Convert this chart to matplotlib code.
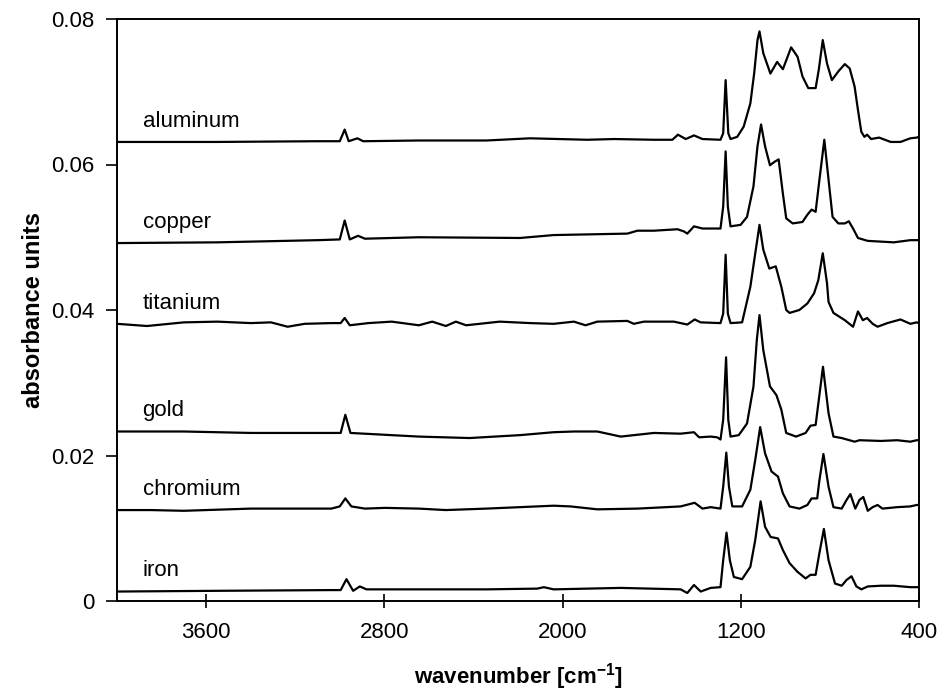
import matplotlib
matplotlib.use("Agg")
import matplotlib.pyplot as plt

plt.rcParams['font.family'] = ['Liberation Sans', 'DejaVu Sans']
plt.rcParams['mathtext.fontset'] = 'custom'
plt.rcParams['mathtext.rm'] = 'Liberation Sans'
plt.rcParams['mathtext.bf'] = 'Liberation Sans:bold'

# spectra (wavenumber in cm-1, absorbance)
aluminum_wn = [4000, 3550, 3098, 3000, 2978, 2960, 2921, 2895, 2645, 2342,
               2146, 1889, 1769, 1590, 1507, 1482, 1447, 1410, 1372, 1291,
               1279, 1268, 1256, 1246, 1216, 1187, 1157, 1140, 1125, 1116,
               1099, 1067, 1037, 1011, 974, 945, 923, 897, 864, 850,
               832, 813, 791, 762, 733, 711, 689, 674, 659, 645,
               633, 615, 579, 527, 483, 439, 410, 400]
aluminum_abs = [0.0631, 0.0631, 0.0632, 0.0632, 0.0648, 0.0632, 0.0636, 0.0632, 0.0633, 0.0633,
                0.0636, 0.0634, 0.0635, 0.0634, 0.0634, 0.0641, 0.0635, 0.0640, 0.0635, 0.0634,
                0.0643, 0.0716, 0.0643, 0.0635, 0.0638, 0.0652, 0.0684, 0.0725, 0.0771, 0.0783,
                0.0753, 0.0725, 0.0741, 0.0731, 0.0761, 0.0748, 0.0721, 0.0705, 0.0705, 0.0730,
                0.0771, 0.0739, 0.0716, 0.0728, 0.0738, 0.0732, 0.0707, 0.0675, 0.0645, 0.0638,
                0.0641, 0.0635, 0.0637, 0.0631, 0.0631, 0.0636, 0.0637, 0.0638]

copper_wn = [4000, 3550, 3098, 3000, 2978, 2955, 2918, 2887, 2645, 2191,
             2040, 1709, 1664, 1590, 1484, 1455, 1440, 1410, 1372, 1291,
             1279, 1268, 1258, 1246, 1201, 1172, 1143, 1125, 1109, 1091,
             1069, 1047, 1030, 1011, 996, 967, 923, 901, 882, 864,
             847, 825, 806, 788, 762, 733, 715, 696, 674, 630,
             571, 513, 439, 410, 400]
copper_abs = [0.0492, 0.0493, 0.0496, 0.0497, 0.0523, 0.0497, 0.0502, 0.0498, 0.0500, 0.0499,
              0.0503, 0.0505, 0.0509, 0.0509, 0.0511, 0.0508, 0.0505, 0.0515, 0.0512, 0.0512,
              0.0542, 0.0618, 0.0542, 0.0515, 0.0517, 0.0528, 0.0570, 0.0625, 0.0655, 0.0625,
              0.0599, 0.0604, 0.0607, 0.0560, 0.0526, 0.0519, 0.0521, 0.0531, 0.0538, 0.0535,
              0.0579, 0.0634, 0.0579, 0.0528, 0.0519, 0.0519, 0.0522, 0.0512, 0.0499, 0.0495,
              0.0494, 0.0493, 0.0496, 0.0496, 0.0496]

titanium_wn = [4000, 3865, 3700, 3550, 3400, 3309, 3234, 3158, 3038, 2996,
               2978, 2955, 2872, 2767, 2645, 2585, 2524, 2479, 2433, 2282,
               2146, 2040, 1949, 1897, 1844, 1709, 1680, 1635, 1500, 1440,
               1407, 1380, 1291, 1279, 1268, 1258, 1246, 1194, 1157, 1135,
               1116, 1099, 1072, 1043, 1018, 996, 981, 937, 901, 871,
               852, 832, 813, 806, 784, 733, 696, 674, 652, 633,
               608, 586, 542, 483, 439, 410, 400]
titanium_abs = [0.0381, 0.0378, 0.0383, 0.0384, 0.0382, 0.0383, 0.0377, 0.0381, 0.0382, 0.0382,
                0.0389, 0.0379, 0.0382, 0.0384, 0.0379, 0.0384, 0.0378, 0.0384, 0.0379, 0.0384,
                0.0382, 0.0381, 0.0384, 0.0379, 0.0384, 0.0385, 0.0381, 0.0384, 0.0384, 0.0380,
                0.0387, 0.0383, 0.0382, 0.0395, 0.0476, 0.0395, 0.0382, 0.0383, 0.0432, 0.0478,
                0.0517, 0.0483, 0.0457, 0.0460, 0.0432, 0.0400, 0.0396, 0.0400, 0.0409, 0.0423,
                0.0441, 0.0478, 0.0437, 0.0411, 0.0396, 0.0386, 0.0377, 0.0398, 0.0386, 0.0389,
                0.0381, 0.0377, 0.0382, 0.0387, 0.0381, 0.0383, 0.0382]

gold_wn = [4000, 3700, 3400, 3023, 2996, 2975, 2952, 2645, 2418, 2191,
           2040, 1949, 1844, 1739, 1590, 1470, 1410, 1387, 1335, 1306,
           1291, 1279, 1266, 1256, 1246, 1209, 1172, 1143, 1128, 1116,
           1099, 1069, 1040, 1018, 996, 952, 909, 887, 864, 850,
           831, 806, 784, 747, 689, 667, 571, 498, 439, 410, 400]
gold_abs = [0.0233, 0.0233, 0.0231, 0.0231, 0.0231, 0.0256, 0.0231, 0.0226, 0.0224, 0.0228,
            0.0232, 0.0233, 0.0233, 0.0226, 0.0231, 0.0230, 0.0232, 0.0225, 0.0226, 0.0225,
            0.0222, 0.0249, 0.0335, 0.0249, 0.0226, 0.0228, 0.0244, 0.0295, 0.0359, 0.0393,
            0.0345, 0.0295, 0.0283, 0.0263, 0.0231, 0.0226, 0.0231, 0.0241, 0.0242, 0.0276,
            0.0322, 0.0258, 0.0226, 0.0224, 0.0219, 0.0221, 0.0220, 0.0221, 0.0219, 0.0221, 0.0221]

chromium_wn = [4000, 3850, 3700, 3400, 3174, 3038, 3000, 2975, 2948, 2887,
               2797, 2645, 2524, 2342, 2040, 1964, 1844, 1664, 1470, 1407,
               1372, 1335, 1291, 1279, 1265, 1253, 1238, 1194, 1157, 1135,
               1113, 1091, 1062, 1033, 1011, 981, 937, 901, 882, 857,
               847, 829, 806, 784, 747, 725, 708, 686, 667, 650,
               630, 608, 586, 564, 498, 439, 410, 400]
chromium_abs = [0.0125, 0.0125, 0.0124, 0.0127, 0.0127, 0.0127, 0.0130, 0.0141, 0.0130, 0.0127,
                0.0128, 0.0127, 0.0125, 0.0127, 0.0131, 0.0130, 0.0126, 0.0127, 0.0130, 0.0135,
                0.0127, 0.0129, 0.0127, 0.0157, 0.0204, 0.0157, 0.0130, 0.0130, 0.0153, 0.0194,
                0.0239, 0.0203, 0.0178, 0.0171, 0.0148, 0.0130, 0.0127, 0.0132, 0.0141, 0.0141,
                0.0166, 0.0202, 0.0157, 0.0129, 0.0127, 0.0139, 0.0147, 0.0127, 0.0139, 0.0143,
                0.0124, 0.0129, 0.0132, 0.0127, 0.0129, 0.0130, 0.0132, 0.0132]

iron_wn = [4000, 3550, 3038, 2996, 2970, 2940, 2910, 2880, 2645, 2342,
           2114, 2084, 2040, 1739, 1470, 1440, 1410, 1380, 1335, 1291,
           1279, 1264, 1249, 1231, 1194, 1157, 1135, 1111, 1091, 1066,
           1033, 1011, 981, 945, 909, 887, 864, 847, 827, 806,
           777, 747, 725, 703, 681, 659, 630, 571, 513, 439, 410, 400]
iron_abs = [0.0013, 0.0014, 0.0015, 0.0015, 0.0030, 0.0014, 0.0020, 0.0016, 0.0016, 0.0016,
            0.0017, 0.0019, 0.0016, 0.0018, 0.0016, 0.0011, 0.0022, 0.0013, 0.0018, 0.0019,
            0.0056, 0.0094, 0.0056, 0.0033, 0.0030, 0.0047, 0.0084, 0.0137, 0.0102, 0.0088,
            0.0086, 0.0070, 0.0052, 0.0040, 0.0031, 0.0036, 0.0036, 0.0066, 0.0099, 0.0056,
            0.0024, 0.0021, 0.0029, 0.0034, 0.0020, 0.0016, 0.0020, 0.0021, 0.0021, 0.0019,
            0.0019, 0.0019]

names = ['aluminum', 'copper', 'titanium', 'gold', 'chromium', 'iron']
spectra = [(aluminum_wn, aluminum_abs), (copper_wn, copper_abs),
           (titanium_wn, titanium_abs), (gold_wn, gold_abs),
           (chromium_wn, chromium_abs), (iron_wn, iron_abs)]

x_ticks = [3600, 2800, 2000, 1200, 400]
y_ticks = [0, 0.02, 0.04, 0.06, 0.08]
y_ticklabels = ['0', '0.02', '0.04', '0.06', '0.08']

fig = plt.figure(figsize=(9.41, 6.99), dpi=100)
ax = fig.add_axes([117/941, 1 - 601/699, (919 - 117)/941, (601 - 19)/699])

for name, (wn, ab) in zip(names, spectra):
    ax.plot(wn, ab, color='black', linewidth=1.6, solid_joinstyle='round')
    ax.text(3885, ab[0] + 0.0021, name, fontsize=16, va='baseline', ha='left')

ax.set_xlim(4000, 400)
ax.set_ylim(0, 0.08)
ax.set_xticks(x_ticks)
ax.set_yticks(y_ticks)
ax.set_yticklabels(y_ticklabels)
ax.tick_params(axis='x', direction='inout', length=10, width=1.2, labelsize=16, pad=10)
ax.tick_params(axis='y', direction='out', length=8, width=1.2, labelsize=16, pad=8)
for sp in ax.spines.values():
    sp.set_linewidth(1.4)

ax.set_xlabel(r'wavenumber [cm$^{\mathbf{-1}}$]', fontsize=16, fontweight='bold', labelpad=13)
ax.set_ylabel('absorbance units', fontsize=17, fontweight='bold', labelpad=5)

fig.savefig('out.png', dpi=100)
